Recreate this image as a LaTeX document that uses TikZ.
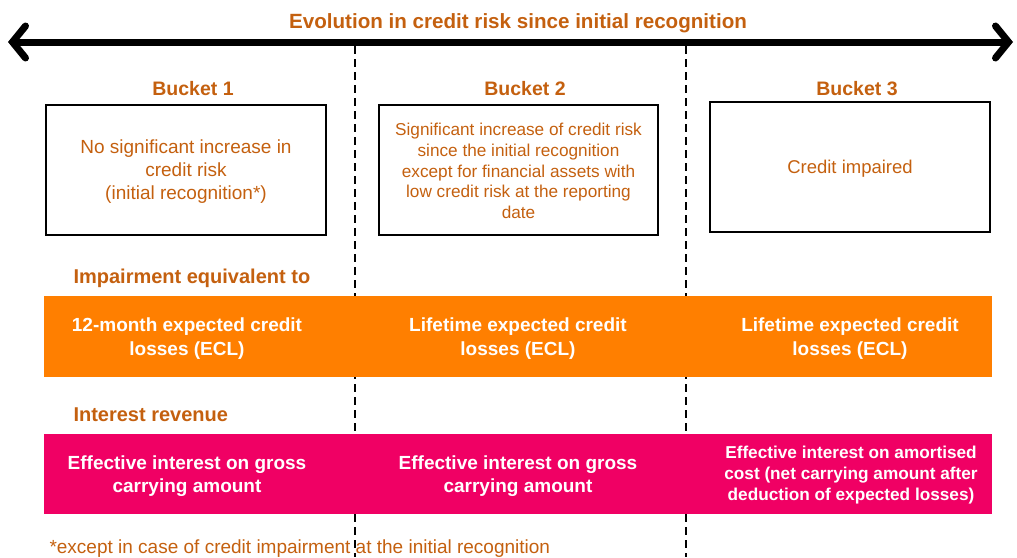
\documentclass[tikz,border=0pt]{standalone}
\usepackage{fontspec}
\setmainfont{Liberation Sans}
\usetikzlibrary{arrows.meta}
\definecolor{brn}{HTML}{C4600F}
\definecolor{orbar}{HTML}{FF7F00}
\definecolor{pkbar}{HTML}{F00064}
\tikzset{
  head/.style={font=\bfseries\fontsize{20.6}{22}\selectfont, text=brn},
  bucket/.style={font=\bfseries\fontsize{19.5}{22}\selectfont, text=brn},
  boxed/.style={draw=black, line width=2pt, minimum width=280pt, minimum height=130pt, inner sep=0pt},
  boxtext/.style={align=center, text=brn},
  section/.style={font=\bfseries\fontsize{20}{22}\selectfont, text=brn, anchor=west},
  bar/.style={minimum width=948pt, minimum height=81pt, inner sep=0pt},
  bartext/.style={font=\bfseries\fontsize{19}{23.5}\selectfont, text=white, align=center},
  divider/.style={line width=1.5pt, dash pattern=on 8pt off 5pt},
}
\begin{document}
\begin{tikzpicture}[x=1pt,y=-1pt]
\useasboundingbox (0,0) rectangle (1017,557);
% dividers
\coordinate (d1t) at (355,46); \coordinate (d1b) at (355,557);
\coordinate (d2t) at (686,46); \coordinate (d2b) at (686,557);
\draw[divider] (d1t) -- (d1b);
\draw[divider] (d2t) -- (d2b);
% main arrow
\coordinate (aL) at (8,42); \coordinate (aR) at (1013,42);
\draw[line width=7pt, {Straight Barb[length=13pt,width=32pt,line cap=round]}-{Straight Barb[length=13pt,width=32pt,line cap=round]}] (aL) -- (aR);
\node[head] (title) at (518,23) {Evolution in credit risk since initial recognition};
% buckets
\node[bucket] (b1) at (193,89) {Bucket 1};
\node[bucket] (b2) at (525,89) {Bucket 2};
\node[bucket] (b3) at (857,89) {Bucket 3};
\node[boxed] (box1) at (186,169.5) {};
\node[boxed, minimum width=279pt] (box2) at (518.5,169.5) {};
\node[boxed] (box3) at (850,167) {};
\node[boxtext, font=\fontsize{19}{23}\selectfont] (t1) at (186,171.5) {No significant increase in\\credit risk\\(initial recognition*)};
\node[boxtext, font=\fontsize{17.2}{20.7}\selectfont] (t2) at (518.5,171) {Significant increase of credit risk\\since the initial recognition\\except for financial assets with\\low credit risk at the reporting\\date};
\node[boxtext, font=\fontsize{18.5}{22}\selectfont] (t3) at (850,168.5) {Credit impaired};
% impairment
\node[section] (imp) at (70,278) {Impairment equivalent to};
\node[bar, fill=orbar] (obar) at (518,336.5) {};
\node[bartext] (o1) at (187,338.5) {12-month expected credit\\losses (ECL)};
\node[bartext] (o2) at (518,338.5) {Lifetime expected credit\\losses (ECL)};
\node[bartext] (o3) at (850,338.5) {Lifetime expected credit\\losses (ECL)};
% interest
\node[section] (int) at (70,415) {Interest revenue};
\node[bar, fill=pkbar, minimum height=80pt] (pbar) at (518,474) {};
\node[bartext] (p1) at (187,476) {Effective interest on gross\\carrying amount};
\node[bartext] (p2) at (518,476) {Effective interest on gross\\carrying amount};
\node[bartext, font=\bfseries\fontsize{17.2}{21}\selectfont] (p3) at (851,475.5) {Effective interest on amortised\\cost (net carrying amount after\\deduction of expected losses)};
% footnote
\node[font=\fontsize{19}{20}\selectfont, text=brn, anchor=west] (fn) at (46,548.5) {*except in case of credit impairment at the initial recognition};
\end{tikzpicture}
\end{document}
